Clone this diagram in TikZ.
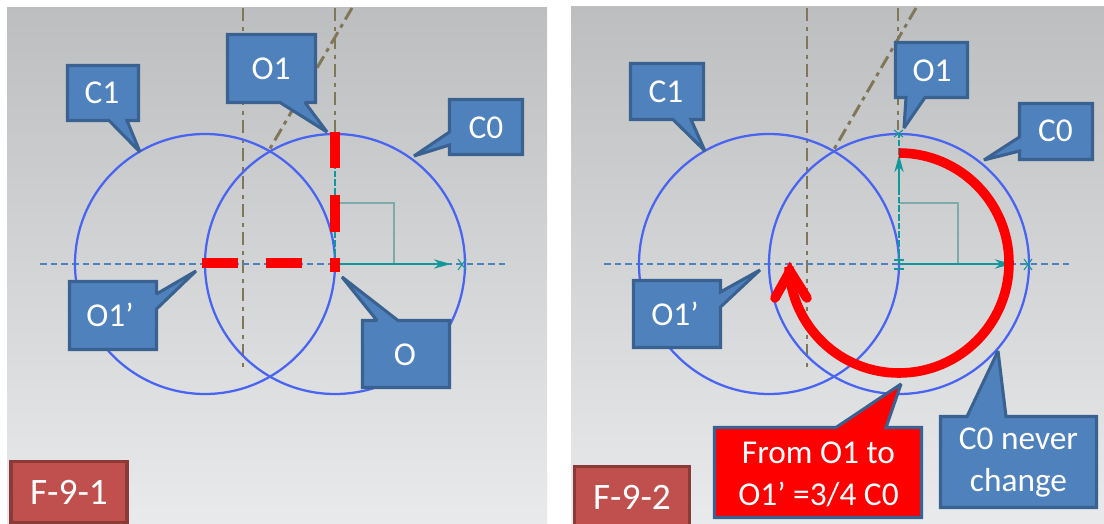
\documentclass[tikz,border=0pt]{standalone}
\usepackage{fontspec}
\setmainfont{Carlito}
\usepackage{xcolor}
\usetikzlibrary{arrows.meta, positioning}
\definecolor{notefill}{HTML}{4F81BD}
\definecolor{noteline}{HTML}{3A6291}
\definecolor{tagfill}{HTML}{C0504D}
\definecolor{tagline}{HTML}{8C3A38}
\definecolor{circline}{HTML}{4A64F2}
\definecolor{guideline}{HTML}{7F7757}
\definecolor{tealline}{HTML}{12989A}
\definecolor{boxline}{HTML}{7FAAAA}
\definecolor{paneltop}{HTML}{BDBEC0}
\definecolor{panelbottom}{HTML}{E9EAEC}
\tikzstyle{notebox} = [draw=noteline, fill=notefill, line width=2.3pt, line join=miter, miter limit=2]
\tikzstyle{redbox} = [notebox, fill=red]
\tikzstyle{note} = [text=white, align=center, inner sep=0pt, font=\fontsize{25}{31.5}\selectfont]
\tikzstyle{tag} = [rectangle, draw=tagline, fill=tagfill, line width=2.3pt, text=white, inner sep=0pt, font=\fontsize{28}{34}\selectfont]
\tikzstyle{panel} = [top color=paneltop, bottom color=panelbottom]
\tikzstyle{circ} = [draw=circline, line width=1.7pt]
\tikzstyle{centerline} = [draw=notefill, line width=1pt, dash pattern=on 5pt off 3pt]
\tikzstyle{guide} = [draw=guideline, line width=2.2pt, dash pattern=on 10pt off 4pt on 3pt off 4pt]
\tikzstyle{tealdash} = [draw=tealline, line width=1pt, dash pattern=on 5pt off 1.5pt]
\tikzstyle{arrow} = [draw=tealline, line width=1pt, -{Stealth[length=13pt,width=7pt]}]
\tikzstyle{anglebox} = [draw=boxline, line width=1pt]
\tikzstyle{cross} = [draw=tealline, line width=0.8pt]
\tikzstyle{reddash} = [draw=red, line width=6.8pt]
\tikzstyle{redarc} = [draw=red, line width=7.2pt]

\begin{document}
\begin{tikzpicture}[x=0.75pt, y=-0.75pt]
    \useasboundingbox (0,0) rectangle (1104,524);

        % Panels
        \shade [panel] (7,8) rectangle (547,524);
        \shade [panel] (571,7) rectangle (1104,524);

        % Centres
        \coordinate (leftC1) at (205,264);
        \coordinate (leftC0) at (335,264);
        \coordinate (rightC1) at (769,264);
        \coordinate (rightC0) at (899,264);

        % Left panel lines
        \draw [guide] (243,8) -- (243,367);
        \draw [guide] (335,8) -- (335,132);
        \draw [guide] (352,8) -- (268,152);
        \draw [centerline] (40,264) -- (507,264);
        \draw [circ] (leftC1) circle (130);
        \draw [circ] (leftC0) circle (130);
        \draw [anglebox] (335,203) -- (394,203) -- (394,264);
        \draw [tealdash] (leftC0) -- (335,134);
        \draw [arrow] (leftC0) -- (451,264);
        \draw [cross] (458,259) -- (466,270);
        \draw [cross] (466,259) -- (458,270);
        \draw [cross] (330,270) -- (340,270);

        % Right panel lines
        \draw [guide] (807,8) -- (807,367);
        \draw [guide] (898,8) -- (898,130);
        \draw [guide] (916,8) -- (833,151);
        \draw [centerline] (604,264) -- (1071,264);
        \draw [circ] (rightC1) circle (130);
        \draw [circ] (rightC0) circle (130);
        \draw [anglebox] (899,203) -- (958,203) -- (958,264);
        \draw [tealdash] (rightC0) -- (899,170);
        \draw [arrow] (899,190) -- (899,155);
        \draw [tealdash] (899,155) -- (899,134);
        \draw [arrow] (rightC0) -- (1012,264);
        \draw [cross] (894,130) -- (903,137);
        \draw [cross] (903,130) -- (894,137);
        \draw [cross] (1024,259) -- (1032,270);
        \draw [cross] (1032,259) -- (1024,270);
        \draw [cross] (894,260) -- (904,260);
        \draw [cross] (894,269) -- (904,269);

        % Red marks
        \draw [reddash] (335,132) -- (335,168);
        \draw [reddash] (335,195) -- (335,232);
        \draw [reddash] (202,263) -- (238,263);
        \draw [reddash] (266,263) -- (302,263);
        \draw [reddash] (330,263) -- (340,263);
        \draw [reddash] (335,258) -- (335,272);
        \draw [redarc] (899,153) arc (-90:178:110);
        \draw [redarc, line cap=round, miter limit=10] (775,298) -- (790,271) -- (807,298);

        % Callout bodies
        \draw [notebox] (67.5,65.5) -- (138.5,65.5) -- (138.5,120.5) -- (127,120.5) -- (140,152) -- (109,120.5) -- (67.5,120.5) -- cycle;
        \draw [notebox] (227.5,34.5) -- (315.5,34.5) -- (315.5,102.5) -- (305,102.5) -- (327,132) -- (280,102.5) -- (227.5,102.5) -- cycle;
        \draw [notebox] (449.5,99.5) -- (522.5,99.5) -- (522.5,154.5) -- (449.5,154.5) -- (449.5,145) -- (414,156) -- (449.5,132) -- cycle;
        \draw [notebox] (69.5,281.5) -- (156.5,281.5) -- (156.5,294) -- (196,271) -- (156.5,309) -- (156.5,349.5) -- (69.5,349.5) -- cycle;
        \draw [notebox] (362.5,320.5) -- (377,320.5) -- (342,277) -- (398,320.5) -- (449.5,320.5) -- (449.5,387.5) -- (362.5,387.5) -- cycle;

        \draw [notebox] (630.5,63.5) -- (703.5,63.5) -- (703.5,119.5) -- (691,119.5) -- (705,151) -- (673,119.5) -- (630.5,119.5) -- cycle;
        \draw [notebox] (895.5,42.5) -- (967.5,42.5) -- (967.5,97.5) -- (925,97.5) -- (904,128) -- (906,97.5) -- (895.5,97.5) -- cycle;
        \draw [notebox] (1019.5,103.5) -- (1092.5,103.5) -- (1092.5,159.5) -- (1019.5,159.5) -- (1019.5,151) -- (984,160) -- (1019.5,137) -- cycle;
        \draw [notebox] (633.5,280.5) -- (720.5,280.5) -- (720.5,292) -- (760,270) -- (720.5,307) -- (720.5,347.5) -- (633.5,347.5) -- cycle;
        \draw [redbox] (714.5,427.5) -- (836,427.5) -- (901,384) -- (886,427.5) -- (921.5,427.5) -- (921.5,517.5) -- (714.5,517.5) -- cycle;
        \draw [notebox] (940.5,416.5) -- (967,416.5) -- (998,351) -- (1006,416.5) -- (1096.5,416.5) -- (1096.5,507.5) -- (940.5,507.5) -- cycle;

        % Nodes
        \node (c1left) [note] at (102,93) {C1};
        \node (o1left) [note] at (271,69) {O1};
        \node (c0left) [note] at (486,128) {C0};
        \node (o1pleft) [note] at (110,315) {O1’};
        \node (oleft) [note] at (405,355) {O};
        \node (figleft) [tag, minimum width=87pt, minimum height=46pt] at (69,492) {F-9-1};

        \node (c1right) [note] at (666,92) {C1};
        \node (o1right) [note] at (932,71) {O1};
        \node (c0right) [note] at (1055.5,131) {C0};
        \node (o1pright) [note] at (675,314) {O1’};
        \node (sweep) [note] at (818.5,474) {From O1 to\\O1’ =3/4 C0};
        \node (never) [note] at (1018.5,463) {C0 never\\change};
        \node (figright) [tag, minimum width=86pt, minimum height=46pt] at (632,497) {F-9-2};

    \end{tikzpicture}
\end{document}
